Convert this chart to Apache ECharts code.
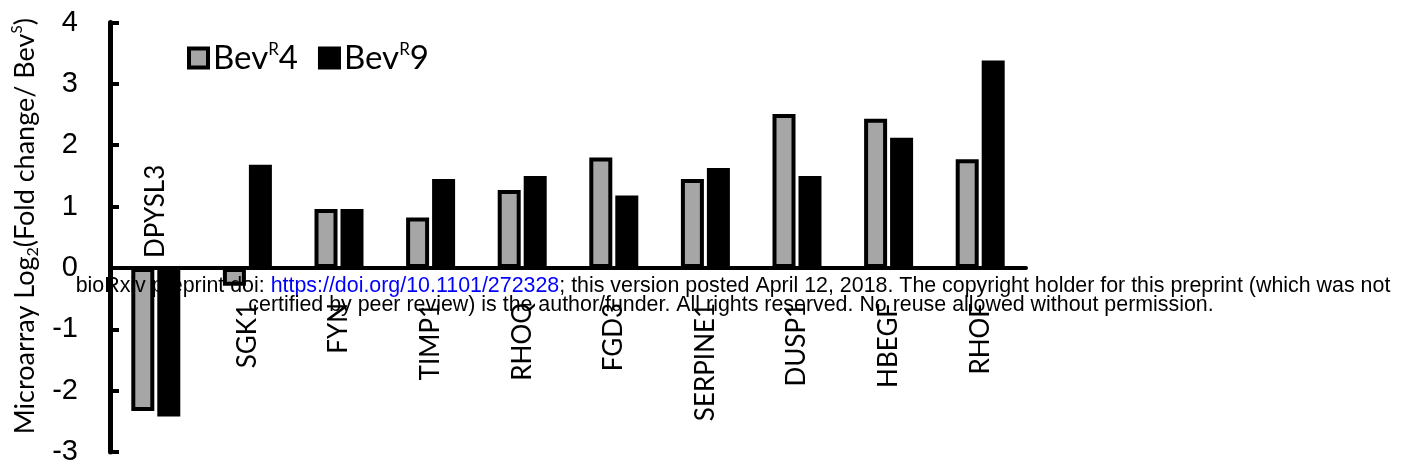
<!DOCTYPE html>
<html>
<head>
<meta charset="utf-8">
<script src="https://cdn.jsdelivr.net/npm/echarts@6/dist/echarts.min.js"></script>
<style>
  html, body { margin: 0; padding: 0; background: #fff; }
  #chart { width: 1405px; height: 472px; }
</style>
</head>
<body>
<div id="chart"></div>
<script>
// Gene list on the x axis
const genes = ['DPYSL3', 'SGK1', 'FYN', 'TIMP1', 'RHOQ', 'FGD3', 'SERPINE1', 'DUSP1', 'HBEGF', 'RHOF'];
// Microarray log2 fold change vs BevS
const bevR4 = [-2.33, -0.29, 0.96, 0.82, 1.27, 1.80, 1.45, 2.51, 2.43, 1.77];
const bevR9 = [-2.42, 1.68, 0.96, 1.45, 1.50, 1.18, 1.63, 1.50, 2.12, 3.38];
const yTicks = [-3, -2, -1, 0, 1, 2, 3, 4];

const labelFont = 'Lato, "Open Sans", sans-serif';
const numFont = '"Liberation Sans", Arial, sans-serif';

// Plot area
const H = 472, gridTop = 22.5, gridBottom = 20;
const yMin = yTicks[0], yMax = yTicks[yTicks.length - 1];
// Shift the category axis from the grid bottom up to the zero line
const zeroOffset = -(H - gridTop - gridBottom) * (0 - yMin) / (yMax - yMin);

// Labels of genes with negative values sit above the axis
const categoryData = genes.map((g, i) => {
  const neg = bevR4[i] < 0 && bevR9[i] < 0;
  return neg ? { value: g, textStyle: { align: 'left', padding: [0, 0, 0, 45] } } : g;
});

const chart = echarts.init(document.getElementById('chart'));
chart.setOption({
  animation: false,
  backgroundColor: '#fff',
  grid: { left: 110, right: 379, top: gridTop, bottom: gridBottom, containLabel: false, outerBoundsMode: 'none' },
  legend: {
    left: 182, top: 36,
    itemWidth: 19, itemHeight: 19, itemGap: 20,
    icon: 'rect',
    data: [
      { name: 'BevR4', itemStyle: { color: '#a6a6a6', borderColor: '#000', borderWidth: 4 } },
      { name: 'BevR9', itemStyle: { color: '#000', borderColor: '#000', borderWidth: 4 } }
    ],
    formatter: n => '{b|Bev}{s|R}{b|' + n.slice(-1) + '}',
    textStyle: {
      color: '#000',
      rich: {
        b: { fontFamily: labelFont, fontSize: 33, color: '#000', lineHeight: 34 },
        s: { fontFamily: labelFont, fontSize: 17, color: '#000', verticalAlign: 'top', lineHeight: 17 }
      }
    }
  },
  xAxis: {
    type: 'category',
    data: categoryData,
    offset: zeroOffset,
    axisLine: { onZero: false, lineStyle: { color: '#000', width: 4 } },
    axisTick: { show: false },
    axisLabel: {
      rotate: 90, margin: 35, interval: 0,
      fontFamily: labelFont, fontSize: 26, color: '#000'
    }
  },
  yAxis: {
    type: 'value',
    min: yMin, max: yMax, interval: 1,
    name: '{t|Microarray Log}{sub|2}{t|(Fold change/ Bev}{sup|S}{t|)}',
    nameLocation: 'middle',
    nameGap: 66,
    nameTextStyle: {
      padding: [0, 0, 0, 22],
      rich: {
        t: { fontFamily: labelFont, fontSize: 27, color: '#000', lineHeight: 32 },
        sub: { fontFamily: labelFont, fontSize: 16, color: '#000', verticalAlign: 'bottom', lineHeight: 16 },
        sup: { fontFamily: labelFont, fontSize: 15, color: '#000', verticalAlign: 'top', lineHeight: 15 }
      }
    },
    axisLine: { show: true, lineStyle: { color: '#000', width: 5 } },
    axisTick: { show: true, inside: true, length: 9, lineStyle: { color: '#000', width: 4 } },
    splitLine: { show: false },
    axisLabel: { margin: 32, padding: [8, 0, 0, 0], fontFamily: numFont, fontSize: 29, color: '#000' }
  },
  series: [
    {
      name: 'BevR4', type: 'bar', data: bevR4,
      barWidth: 23, barGap: '13%',
      itemStyle: { color: '#a6a6a6', borderColor: '#000', borderWidth: 4 }
    },
    {
      name: 'BevR9', type: 'bar', data: bevR9,
      barWidth: 23, barGap: '13%',
      itemStyle: { color: '#000', borderColor: '#000', borderWidth: 4 }
    }
  ],
  graphic: [
    {
      type: 'text', z: 100,
      style: {
        x: 733, y: 286, align: 'center', verticalAlign: 'middle',
        text: '{t|bioRxiv preprint doi: }{l|https://doi.org/10.1101/272328}{t|; this version posted April 12, 2018. The copyright holder for this preprint (which was not}',
        rich: {
          t: { fontFamily: numFont, fontSize: 21.4, fill: '#000', color: '#000' },
          l: { fontFamily: numFont, fontSize: 21.4, fill: '#0000ff', color: '#0000ff' }
        }
      }
    },
    {
      type: 'text', z: 100,
      style: {
        x: 731, y: 305, align: 'center', verticalAlign: 'middle',
        text: 'certified by peer review) is the author/funder. All rights reserved. No reuse allowed without permission.',
        font: '21.4px "Liberation Sans", Arial, sans-serif',
        fill: '#000'
      }
    }
  ]
});
</script>
</body>
</html>
